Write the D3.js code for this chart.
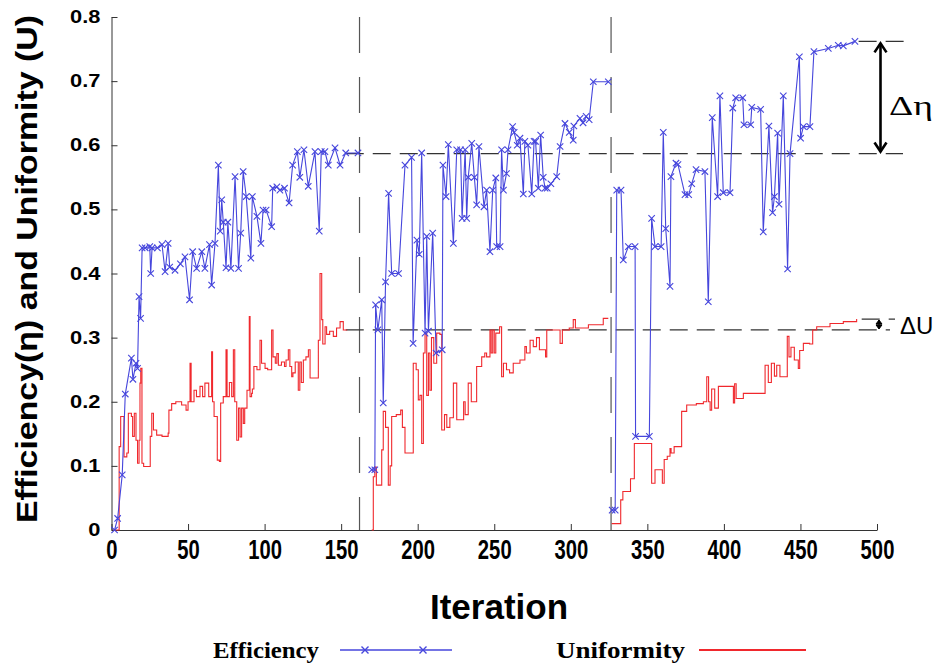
<!DOCTYPE html>
<html><head><meta charset="utf-8">
<script src="https://cdn.jsdelivr.net/npm/d3@7"></script>
<style>body{margin:0;background:#fff;} svg{display:block;}</style>
</head><body><svg id="c" width="948" height="666"></svg>
<script>
// ---------- data ----------
const xTicks = [0,50,100,150,200,250,300,350,400,450,500];
const yTicks = [0,0.1,0.2,0.3,0.4,0.5,0.6,0.7,0.8];
const yTickLabels = ["0","0.1","0.2","0.3","0.4","0.5","0.6","0.7","0.8"];
const seriesNames = ["Efficiency","Uniformity"];
const phaseBounds = [162, 326.3];
const deltaEta = [0.587, 0.762];
const deltaU = [0.312, 0.329];

// Efficiency (iteration, value) per phase
const eff1 = [[2,0],[4,0.018],[7,0.086],[9,0.212],[13,0.268],[14,0.235],[16,0.26],[17,0.252],[18,0.364],[19,0.33],[20,0.44],[22,0.44],[25,0.442],[25.6,0.40],[26.5,0.44],[30,0.44],[33,0.445],[35,0.403],[37,0.447],[38,0.41],[41.5,0.405],[45,0.415],[48,0.426],[51,0.359],[53,0.434],[55.6,0.408],[59,0.434],[61,0.408],[64,0.445],[65.4,0.382],[67.6,0.447],[69.8,0.569],[71,0.466],[72,0.515],[73,0.48],[74.8,0.409],[76,0.48],[78,0.408],[80.7,0.551],[83,0.408],[84.4,0.463],[86,0.559],[88,0.52],[91,0.424],[92,0.52],[95,0.489],[97.6,0.447],[99,0.499],[101,0.499],[104.6,0.473],[105.3,0.533],[108,0.535],[110,0.53],[113,0.533],[116,0.51],[118.3,0.569],[121.4,0.59],[123,0.55],[125.7,0.593],[128.5,0.536],[132.9,0.59],[135.7,0.466],[137,0.59],[139.4,0.59],[141.6,0.569],[146,0.596],[149.3,0.569],[153,0.588],[161,0.588]];
const eff2 = [[170,0.094],[172,0.094],[172.5,0.351],[174,0.312],[176.5,0.359],[177.5,0.198],[179,0.387],[181,0.525],[183,0.40],[187.5,0.40],[191.7,0.569],[196,0.581],[197,0.291],[199.5,0.452],[201,0.43],[202.6,0.588],[204.8,0.307],[205.9,0.458],[207,0.31],[209.8,0.463],[212,0.276],[216,0.281],[216.5,0.569],[218.5,0.52],[220,0.601],[223.3,0.447],[225.5,0.593],[228,0.593],[229,0.486],[231,0.593],[232,0.486],[233,0.55],[235.3,0.603],[237,0.55],[238.5,0.507],[240,0.598],[243.3,0.504],[245,0.53],[247.2,0.434],[249,0.53],[251,0.549],[251.6,0.442],[253.8,0.442],[254.8,0.593],[256,0.53],[258,0.556],[259,0.593],[262,0.629],[263,0.62],[265,0.60],[266.8,0.611],[269,0.524],[270,0.606],[272,0.60],[274.5,0.524],[276,0.606],[277,0.606],[278.8,0.533],[280.3,0.616],[282,0.55],[283.2,0.533],[284.6,0.533],[287,0.54],[290.8,0.551],[293,0.598],[296.2,0.634],[299,0.62],[301.6,0.608],[302,0.63],[306,0.642],[308,0.635],[310,0.645],[312,0.64],[314.7,0.699],[324.5,0.699]];
const eff3 = [[327,0.031],[329,0.031],[330,0.53],[332.8,0.53],[334.3,0.421],[337.6,0.442],[342,0.442],[342.3,0.146],[351.3,0.146],[352.8,0.486],[355,0.442],[359,0.442],[360.4,0.62],[362,0.47],[364.8,0.38],[365.4,0.551],[368.7,0.572],[370,0.57],[374.6,0.523],[377,0.523],[379,0.54],[381.8,0.562],[387.6,0.559],[389.8,0.356],[392.4,0.643],[395.9,0.52],[397.4,0.677],[399.6,0.526],[404,0.526],[405.8,0.658],[407.7,0.674],[412.3,0.674],[413.1,0.632],[417.5,0.632],[418.2,0.659],[424,0.656],[425.7,0.465],[429.4,0.63],[431.8,0.495],[433,0.52],[435.1,0.619],[436,0.508],[438.8,0.677],[441.6,0.407],[443.2,0.587],[449.3,0.738],[450.1,0.611],[451.9,0.629],[456.2,0.629],[458.8,0.746],[468.2,0.751],[474.7,0.756],[478,0.755],[485.6,0.762]];

// Uniformity (iteration, value) per phase
const uni1 = [[1,0],[3,0.0],[5,0.13],[6,0.177],[7.7,0.177],[8.2,0.114],[10,0.12],[11,0.182],[13,0.177],[13.8,0.146],[14.9,0.182],[16,0.14],[17,0.104],[18,0.14],[18.6,0.229],[19.1,0.252],[19.9,0.104],[21,0.099],[24,0.099],[25.3,0.146],[26.3,0.182],[27.4,0.156],[29.5,0.148],[33,0.146],[37,0.151],[37.5,0.187],[39.3,0.197],[42,0.2],[45.8,0.195],[48.7,0.187],[50,0.2],[51.3,0.26],[52,0.2],[53.9,0.218],[55.5,0.208],[57.8,0.224],[59.5,0.208],[61,0.229],[63.5,0.208],[65.4,0.278],[66,0.2],[67,0.177],[69.1,0.109],[70.5,0.107],[71.3,0.198],[73,0.208],[74.8,0.281],[75.5,0.208],[77,0.23],[78.5,0.208],[79.6,0.281],[80.5,0.2],[81.8,0.14],[83,0.19],[84,0.145],[85,0.19],[86.1,0.166],[87,0.19],[88.5,0.218],[90,0.333],[90.5,0.208],[91.5,0.213],[92,0.22],[93,0.255],[95,0.25],[97,0.296],[98,0.26],[100.3,0.252],[102,0.25],[104.6,0.312],[105.5,0.27],[107,0.26],[108,0.275],[109,0.257],[111,0.262],[113,0.255],[114,0.265],[115.5,0.281],[116.5,0.255],[117.7,0.239],[118.5,0.245],[120,0.262],[122,0.218],[123,0.262],[124,0.23],[125.3,0.265],[127,0.27],[128.6,0.281],[129.7,0.237],[134,0.237],[135.1,0.296],[136.2,0.40],[137.3,0.328],[138,0.29],[139.5,0.317],[140.5,0.305],[142.5,0.31],[144.9,0.302],[147,0.315],[149.3,0.325],[151.4,0.312],[154,0.312]];
const uni2 = [[170,0],[171,0.083],[172,0.098],[173,0.07],[176.5,0.125],[177.5,0.185],[179,0.16],[180.8,0.07],[182,0.1],[183,0.177],[186,0.18],[188.9,0.187],[190,0.16],[191.7,0.12],[196.7,0.12],[197.1,0.26],[199,0.25],[200.4,0.203],[201.5,0.21],[202.6,0.135],[203.7,0.276],[204.8,0.307],[205.9,0.21],[207,0.276],[208,0.218],[209,0.3],[210.5,0.26],[212.4,0.307],[214.5,0.305],[215.7,0.156],[217.5,0.18],[219,0.16],[221,0.175],[223.3,0.229],[225.5,0.172],[229,0.172],[230,0.2],[231,0.18],[233,0.229],[235,0.2],[238.5,0.255],[241.8,0.27],[243.8,0.276],[245,0.27],[247.2,0.312],[248,0.276],[249,0.312],[250,0.276],[251,0.307],[253.5,0.317],[254.8,0.239],[256,0.26],[258,0.25],[260,0.245],[262.4,0.26],[266.8,0.265],[270,0.286],[271,0.276],[273.4,0.296],[275.5,0.286],[277.6,0.3],[279.5,0.281],[282,0.281],[283.5,0.27],[284.3,0.312],[291.5,0.312],[293,0.291],[294.5,0.312],[299,0.315],[301.6,0.328],[303,0.315],[308,0.315],[311.5,0.32],[316,0.32],[321.2,0.33],[324.5,0.33]];
const uni3 = [[326.7,0.01],[329,0.01],[332.6,0.047],[334,0.06],[337.6,0.06],[339,0.08],[341.5,0.135],[352.5,0.135],[352.8,0.073],[355,0.094],[359.4,0.094],[359.8,0.073],[361,0.11],[363,0.115],[364.8,0.127],[365.5,0.12],[367.5,0.13],[370,0.13],[372.4,0.185],[375.7,0.195],[382,0.197],[386.6,0.2],[388.8,0.239],[390,0.2],[391,0.187],[392,0.22],[394,0.19],[396.4,0.224],[405.5,0.224],[406.2,0.198],[407,0.228],[408,0.205],[412.7,0.213],[424.5,0.213],[426.9,0.257],[429,0.23],[431,0.26],[433,0.24],[434.5,0.257],[436.6,0.239],[440.5,0.239],[441.4,0.302],[442.5,0.27],[443.8,0.285],[446,0.265],[448.6,0.252],[449.5,0.28],[451.9,0.291],[456,0.29],[458,0.312],[460.6,0.317],[469.3,0.322],[478,0.325],[486.7,0.329]];

// ---------- drawing ----------
const BLUE = "#4646dc", RED = "#f0282d";
const svg = d3.select("#c");
const x = d3.scaleLinear().domain([0,500]).range([111.5,877]);
const y = d3.scaleLinear().domain([0,0.8]).range([530,17]);

// reference dashed lines
const ref = svg.append("g");
phaseBounds.forEach(b => {
  ref.append("line").attr("x1",x(b)).attr("x2",x(b)).attr("y1",y(0.8)).attr("y2",y(0))
    .attr("stroke","#555").attr("stroke-width",1.2).attr("stroke-dasharray","36,24");
});
const hDash = (v, i0, px1) => ref.append("line")
  .attr("x1", x(i0)).attr("x2", px1).attr("y1", y(v)).attr("y2", y(v))
  .attr("stroke","#333").attr("stroke-width",1.2).attr("stroke-dasharray","18,9");
hDash(deltaEta[0], 153, 903);
hDash(deltaEta[1], 488, 905);
hDash(deltaU[0], 153, 890);
hDash(deltaU[1], 490, 895);

// axes
const gx = svg.append("g").attr("transform",`translate(0,${y(0)})`)
  .call(d3.axisBottom(x).tickValues(xTicks).tickSizeInner(-6).tickSizeOuter(0).tickPadding(9).tickFormat(d3.format("d")));
gx.selectAll("text").attr("font-family","Liberation Sans, Arial, sans-serif").attr("font-weight","bold")
  .attr("font-size",22).attr("fill","#000")
  .attr("y",0).attr("transform","translate(0,10) scale(0.92,1.22)");
const gy = svg.append("g").attr("transform",`translate(${x(0)},0)`)
  .call(d3.axisLeft(y).tickValues(yTicks).tickSizeInner(-6).tickSizeOuter(0).tickPadding(11).tickFormat((d,i)=>yTickLabels[i]));
gy.selectAll("text").attr("font-family","Liberation Sans, Arial, sans-serif").attr("font-weight","bold")
  .attr("font-size",17.5).attr("fill","#000")
  .attr("x",0).attr("transform","translate(-11,0) scale(1.25,1)");
[gx,gy].forEach(g=>{ g.selectAll("path,line").attr("stroke","#333"); });

// series lines
const line = d3.line().x(d=>x(d[0])).y(d=>y(d[1]));
const stepLine = d3.line().x(d=>x(d[0])).y(d=>y(d[1])).curve(d3.curveStepAfter);
[uni1,uni2,uni3].forEach(s => svg.append("path").datum(s).attr("d",stepLine)
  .attr("fill","none").attr("stroke",RED).attr("stroke-width",1.1));
[eff1,eff2,eff3].forEach(s => {
  svg.append("path").datum(s).attr("d",line).attr("fill","none").attr("stroke",BLUE).attr("stroke-width",1.1);
});
const xm = (cx,cy,r)=>`M${cx-r},${cy-r}L${cx+r},${cy+r}M${cx-r},${cy+r}L${cx+r},${cy-r}`;
svg.append("g").selectAll("path").data([].concat(eff1,eff2,eff3)).join("path")
  .attr("d",d=>xm(x(d[0]),y(d[1]),3.2)).attr("stroke",BLUE).attr("stroke-width",1.1).attr("fill","none");

// delta annotations
const ax = 880.5;
const ann = svg.append("g").attr("stroke","#000").attr("fill","none");
ann.append("line").attr("x1",ax).attr("x2",ax).attr("y1",y(deltaEta[1])+2).attr("y2",y(deltaEta[0])-2).attr("stroke-width",2.6);
ann.append("path").attr("d",`M${ax-6},${y(deltaEta[1])+11}L${ax},${y(deltaEta[1])+2}L${ax+6},${y(deltaEta[1])+11}`).attr("stroke-width",2.6);
ann.append("path").attr("d",`M${ax-6},${y(deltaEta[0])-11}L${ax},${y(deltaEta[0])-2}L${ax+6},${y(deltaEta[0])-11}`).attr("stroke-width",2.6);
const ux = 879;
ann.append("line").attr("x1",ux).attr("x2",ux).attr("y1",y(deltaU[1])+1).attr("y2",y(deltaU[0])-1).attr("stroke-width",1.2);
ann.append("path").attr("d",`M${ux-3},${y(deltaU[1])+5}L${ux},${y(deltaU[1])+1}L${ux+3},${y(deltaU[1])+5}Z`).attr("fill","#000").attr("stroke-width",1);
ann.append("path").attr("d",`M${ux-3},${y(deltaU[0])-5}L${ux},${y(deltaU[0])-1}L${ux+3},${y(deltaU[0])-5}Z`).attr("fill","#000").attr("stroke-width",1);
svg.append("text").attr("x",889).attr("y",115).attr("font-family","Liberation Serif, Times New Roman, serif")
  .attr("font-size",28).attr("textLength",44).attr("lengthAdjust","spacingAndGlyphs").text("Δη");
svg.append("text").attr("x",900).attr("y",334).attr("font-family","Liberation Sans, Arial, sans-serif")
  .attr("font-size",24).text("ΔU");

// axis titles
svg.append("text").attr("transform","translate(37,523) rotate(-90)")
  .attr("font-family","Liberation Sans, Arial, sans-serif").attr("font-weight","bold").attr("font-size",30)
  .attr("textLength",508).attr("lengthAdjust","spacingAndGlyphs")
  .text("Efficiency(η) and Uniformity (U)");
svg.append("text").attr("x",499).attr("y",619).attr("text-anchor","middle")
  .attr("font-family","Liberation Sans, Arial, sans-serif").attr("font-weight","bold").attr("font-size",35)
  .text("Iteration");

// legend
const lg = svg.append("g").attr("font-family","Liberation Serif, Times New Roman, serif").attr("font-weight","bold").attr("font-size",24);
lg.append("text").attr("x",213).attr("y",658).attr("textLength",106).attr("lengthAdjust","spacingAndGlyphs").text(seriesNames[0]);
lg.append("line").attr("x1",340).attr("x2",452).attr("y1",650).attr("y2",650).attr("stroke",BLUE).attr("stroke-width",1.6);
[365,423].forEach(cx=>lg.append("path").attr("d",xm(cx,650,3.5)).attr("stroke",BLUE).attr("stroke-width",1.4));
lg.append("text").attr("x",556).attr("y",658).attr("textLength",129).attr("lengthAdjust","spacingAndGlyphs").text(seriesNames[1]);
lg.append("line").attr("x1",699).attr("x2",806).attr("y1",650).attr("y2",650).attr("stroke",RED).attr("stroke-width",1.8);
</script></body></html>
